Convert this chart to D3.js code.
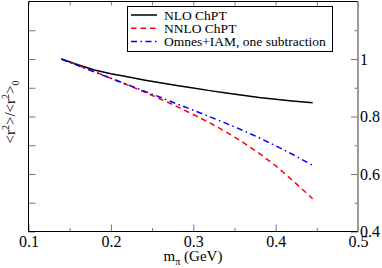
<!DOCTYPE html>
<html>
<head>
<meta charset="utf-8">
<script src="https://cdn.jsdelivr.net/npm/d3@7"></script>
<style>
  body { margin: 0; background: #fff; }
</style>
</head>
<body>
<script>
// m_pi (GeV) sample points
const mpi = [0.14, 0.16, 0.18, 0.20, 0.22, 0.24, 0.26, 0.28, 0.30, 0.32, 0.34, 0.36, 0.38, 0.40, 0.42, 0.445];
const nlo = [1.000, 0.980, 0.962, 0.949, 0.938, 0.927, 0.917, 0.908, 0.899, 0.890, 0.882, 0.874, 0.866, 0.860, 0.854, 0.848];
const nnlo = [1.000, 0.978, 0.956, 0.933, 0.910, 0.886, 0.861, 0.835, 0.807, 0.778, 0.746, 0.711, 0.672, 0.629, 0.579, 0.514];
const omnes = [1.000, 0.977, 0.955, 0.933, 0.911, 0.889, 0.867, 0.844, 0.822, 0.799, 0.776, 0.752, 0.726, 0.698, 0.669, 0.630];

const xTicks = [0.1, 0.2, 0.3, 0.4, 0.5];
const xMinor = [0.15, 0.25, 0.35, 0.45];
const yTicks = [0.4, 0.6, 0.8, 1.0];
const yMinor = [0.5, 0.7, 0.9, 1.1];
const seriesNames = ["NLO ChPT", "NNLO ChPT", "Omnes+IAM, one subtraction"];

const width = 382, height = 268;
const pLeft = 28.5, pRight = 358, pTop = 1.5, pBottom = 231.5;
const serif = '"Liberation Serif"';

const x = d3.scaleLinear().domain([0.1, 0.5]).range([pLeft, pRight]);
const y = d3.scaleLinear().domain([0.4, 1.2]).range([pBottom, pTop]);

const svg = d3.select('body').append('svg')
    .attr('width', width)
    .attr('height', height)
    .style('font-family', serif);

// ticks (all pointing inwards)
function noLabels(g) { g.selectAll('text').remove(); }
function tickStyle(g) {
    g.attr('font-family', null).style('font-family', serif);
    g.select('.domain').remove();
    g.selectAll('line').attr('stroke', '#777');
}

svg.append('g').attr('transform', `translate(0,${pBottom})`)
    .call(d3.axisBottom(x).tickValues(xTicks).tickSize(-7).tickPadding(4).tickFormat(d3.format('.1f')))
    .call(tickStyle)
    .selectAll('text').attr('font-size', 16).attr('fill', '#000');
svg.append('g').attr('transform', `translate(0,${pBottom})`)
    .call(d3.axisBottom(x).tickValues(xMinor).tickSize(-3.5))
    .call(tickStyle).call(noLabels);
svg.append('g').attr('transform', `translate(0,${pTop})`)
    .call(d3.axisTop(x).tickValues(xTicks.concat(xMinor)).tickSize(-4))
    .call(tickStyle).call(noLabels);
svg.append('g').attr('transform', `translate(${pLeft},0)`)
    .call(d3.axisLeft(y).tickValues(yTicks.concat(yMinor)).tickSize(-7))
    .call(tickStyle).call(noLabels);
svg.append('g').attr('transform', `translate(${pRight},0)`)
    .call(d3.axisRight(y).tickValues(yTicks).tickSize(-7).tickPadding(2).tickFormat(d3.format('~g')))
    .call(tickStyle)
    .selectAll('text').attr('font-size', 16).attr('fill', '#000');
svg.append('g').attr('transform', `translate(${pRight},0)`)
    .call(d3.axisRight(y).tickValues(yMinor).tickSize(-3.5))
    .call(tickStyle).call(noLabels);

// frame
svg.append('path')
    .attr('d', `M${pRight},${pTop}H${pLeft}V${pBottom}H${pRight}`)
    .attr('fill', 'none').attr('stroke', '#000').attr('stroke-width', 1);
svg.append('line')
    .attr('x1', pRight).attr('x2', pRight).attr('y1', pTop).attr('y2', pBottom)
    .attr('stroke', '#999').attr('stroke-width', 2);

// curves
const line = d3.line().x((d, i) => x(mpi[i])).y(d => y(d));
const series = [
    { values: nlo, color: '#000', dash: null },
    { values: nnlo, color: '#ff0000', dash: '5.5,4' },
    { values: omnes, color: '#0000ff', dash: '6,3.5,1.5,3.5' }
];
series.forEach(s => {
    svg.append('path')
        .attr('d', line(s.values))
        .attr('fill', 'none')
        .attr('stroke', s.color)
        .attr('stroke-width', 1.5)
        .attr('stroke-dasharray', s.dash);
});

// legend
const legend = svg.append('g');
legend.append('rect')
    .attr('x', 127.5).attr('y', 6.5).attr('width', 205).attr('height', 45)
    .attr('fill', '#fff').attr('stroke', '#000').attr('stroke-width', 1);
series.forEach((s, i) => {
    const ly = 15 + i * 13.3;
    legend.append('line')
        .attr('x1', 131).attr('x2', 157).attr('y1', ly).attr('y2', ly)
        .attr('stroke', s.color).attr('stroke-width', 1.5)
        .attr('stroke-dasharray', s.dash);
    legend.append('text')
        .attr('x', 164).attr('y', ly + 4.5)
        .attr('font-size', 13.5)
        .text(seriesNames[i]);
});

// axis titles
const xl = svg.append('text')
    .attr('x', 193).attr('y', 260.5)
    .attr('text-anchor', 'middle')
    .attr('font-size', 15);
xl.append('tspan').text('m');
xl.append('tspan').attr('dy', 4).attr('font-size', 10).text('π');
xl.append('tspan').attr('dy', -4).text(' (GeV)');

const yl = svg.append('text')
    .attr('transform', 'translate(15,112) rotate(-90)')
    .attr('text-anchor', 'middle')
    .attr('font-size', 15);
yl.append('tspan').text('<r');
yl.append('tspan').attr('dy', -6).attr('font-size', 10).text('2');
yl.append('tspan').attr('dy', 6).text('>/<r');
yl.append('tspan').attr('dy', -6).attr('font-size', 10).text('2');
yl.append('tspan').attr('dy', 6).text('>');
yl.append('tspan').attr('dy', 4).attr('font-size', 10).text('0');
</script>
</body>
</html>
